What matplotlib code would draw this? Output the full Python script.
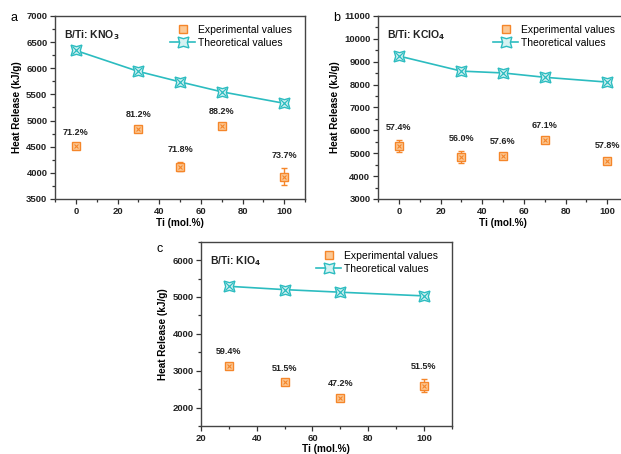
import numpy as np
import matplotlib
matplotlib.use("Agg")
from matplotlib import pyplot as plt

plt.rcParams['font.family'] = ['Liberation Sans', 'DejaVu Sans']

# panel a: B/Ti with KNO3
ti_a = [0, 30, 50, 70, 100]
theo_a = [6340, 5940, 5740, 5550, 5330]
exp_a = [4510, 4830, 4120, 4900, 3930]
err_a = [30, 50, 90, 40, 160]
eff_a = ["71.2%", "81.2%", "71.8%", "88.2%", "73.7%"]

# panel b: B/Ti with KClO4
ti_b = [0, 30, 50, 70, 100]
theo_b = [9250, 8590, 8510, 8320, 8110]
exp_b = [5300, 4840, 4900, 5600, 4680]
err_b = [260, 250, 60, 60, 110]
eff_b = ["57.4%", "56.0%", "57.6%", "67.1%", "57.8%"]

# panel c: B/Ti with KIO4
ti_c = [30, 50, 70, 100]
theo_c = [5290, 5200, 5130, 5030]
exp_c = [3140, 2680, 2260, 2590]
err_c = [50, 50, 50, 180]
eff_c = ["59.4%", "51.5%", "47.2%", "51.5%"]

ORANGE = '#f5862a'
TEAL = '#2cbcc0'


def panel(ax, ti, theo, exp, err, eff, title, letter, xlim, ylim, yticks,
          letter_y=0.99, xlabelpad=2):
    ax.errorbar(ti, exp, yerr=err, fmt='none', ecolor=ORANGE, elinewidth=1,
                capsize=2.5, capthick=1, zorder=2)
    ax.plot(ti, exp, ls='none', marker='s', ms=6, mfc='#fcc894', mec=ORANGE,
            mew=1, zorder=3, label='Experimental values')
    ax.plot(ti, exp, ls='none', marker='x', ms=3.5, mec=ORANGE, mew=0.8, zorder=4)
    ax.plot(ti, theo, color=TEAL, lw=1.2, marker=(4, 1, 45), ms=11,
            mfc='#d6f2f2', mec=TEAL, mew=1, label='Theoretical values', zorder=3)
    ax.plot(ti, theo, ls='none', marker='x', ms=5.5, mec=TEAL, mew=0.9, zorder=4)

    for x, y, e, s in zip(ti, exp, err, eff):
        ax.annotate(s, (x, y + e), xytext=(0, 9), textcoords='offset points',
                    ha='center', va='center', fontsize=6.5, fontweight='bold',
                    color='#222222')

    ax.set_xlim(*xlim)
    ax.set_ylim(*ylim)
    ax.set_yticks(yticks)
    step = yticks[1] - yticks[0]
    ax.set_yticks(np.arange(ylim[0], ylim[1] + 1, step / 2), minor=True)
    ax.set_xticks(np.arange(20 if xlim[0] > 0 else 0, 101, 20))
    ax.set_xticks(np.arange(xlim[0], xlim[1] + 1, 10), minor=True)
    ax.tick_params(which='both', direction='out', top=False, right=False,
                   labelsize=6.8, width=0.9, colors='#333333')
    ax.tick_params(which='major', length=3.5, pad=2)
    ax.tick_params(which='minor', length=2)
    for lab in ax.get_xticklabels() + ax.get_yticklabels():
        lab.set_fontweight('bold')
        lab.set_color('#222222')
    for sp in ax.spines.values():
        sp.set_linewidth(1)
        sp.set_color('#444444')

    ax.set_xlabel('Ti (mol.%)', fontsize=7.2, fontweight='bold', labelpad=xlabelpad)
    ax.set_ylabel('Heat Release (kJ/g)', fontsize=7.2, fontweight='bold', labelpad=3)
    ax.text(0.035, 0.895, title, transform=ax.transAxes, fontsize=7.5,
            fontweight='bold', va='center', ha='left', color='#222222')
    ax.text(-0.165, letter_y, letter, transform=ax.transAxes, fontsize=9,
            va='center', ha='center')

    handles, labels = ax.get_legend_handles_labels()
    ax.legend(handles, labels, loc='upper left', bbox_to_anchor=(0.46, 0.95),
              frameon=False, fontsize=7.5, handlelength=2.4, handletextpad=0.3,
              borderaxespad=0, borderpad=0, labelspacing=0.25, numpoints=1)


fig = plt.figure(figsize=(6.21, 4.54), dpi=100)
ax_a = fig.add_axes([0.0886, 0.5617, 0.4026, 0.4031])
ax_b = fig.add_axes([0.6087, 0.5617, 0.4026, 0.4031])
ax_c = fig.add_axes([0.3237, 0.0617, 0.4037, 0.4059])

panel(ax_a, ti_a, theo_a, exp_a, err_a, eff_a, r'B/Ti: KNO$_\mathbf{3}$', 'a',
      (-10, 110), (3500, 7000), np.arange(3500, 7001, 500))
panel(ax_b, ti_b, theo_b, exp_b, err_b, eff_b, r'B/Ti: KClO$_\mathbf{4}$', 'b',
      (-10, 110), (3000, 11000), np.arange(3000, 11001, 1000))
panel(ax_c, ti_c, theo_c, exp_c, err_c, eff_c, r'B/Ti: KIO$_\mathbf{4}$', 'c',
      (20, 110), (1500, 6500), np.arange(2000, 6001, 1000),
      letter_y=0.96, xlabelpad=1)
ax_c.set_yticks(np.arange(1500, 6501, 500), minor=True)

fig.savefig('out.png', dpi=100)
